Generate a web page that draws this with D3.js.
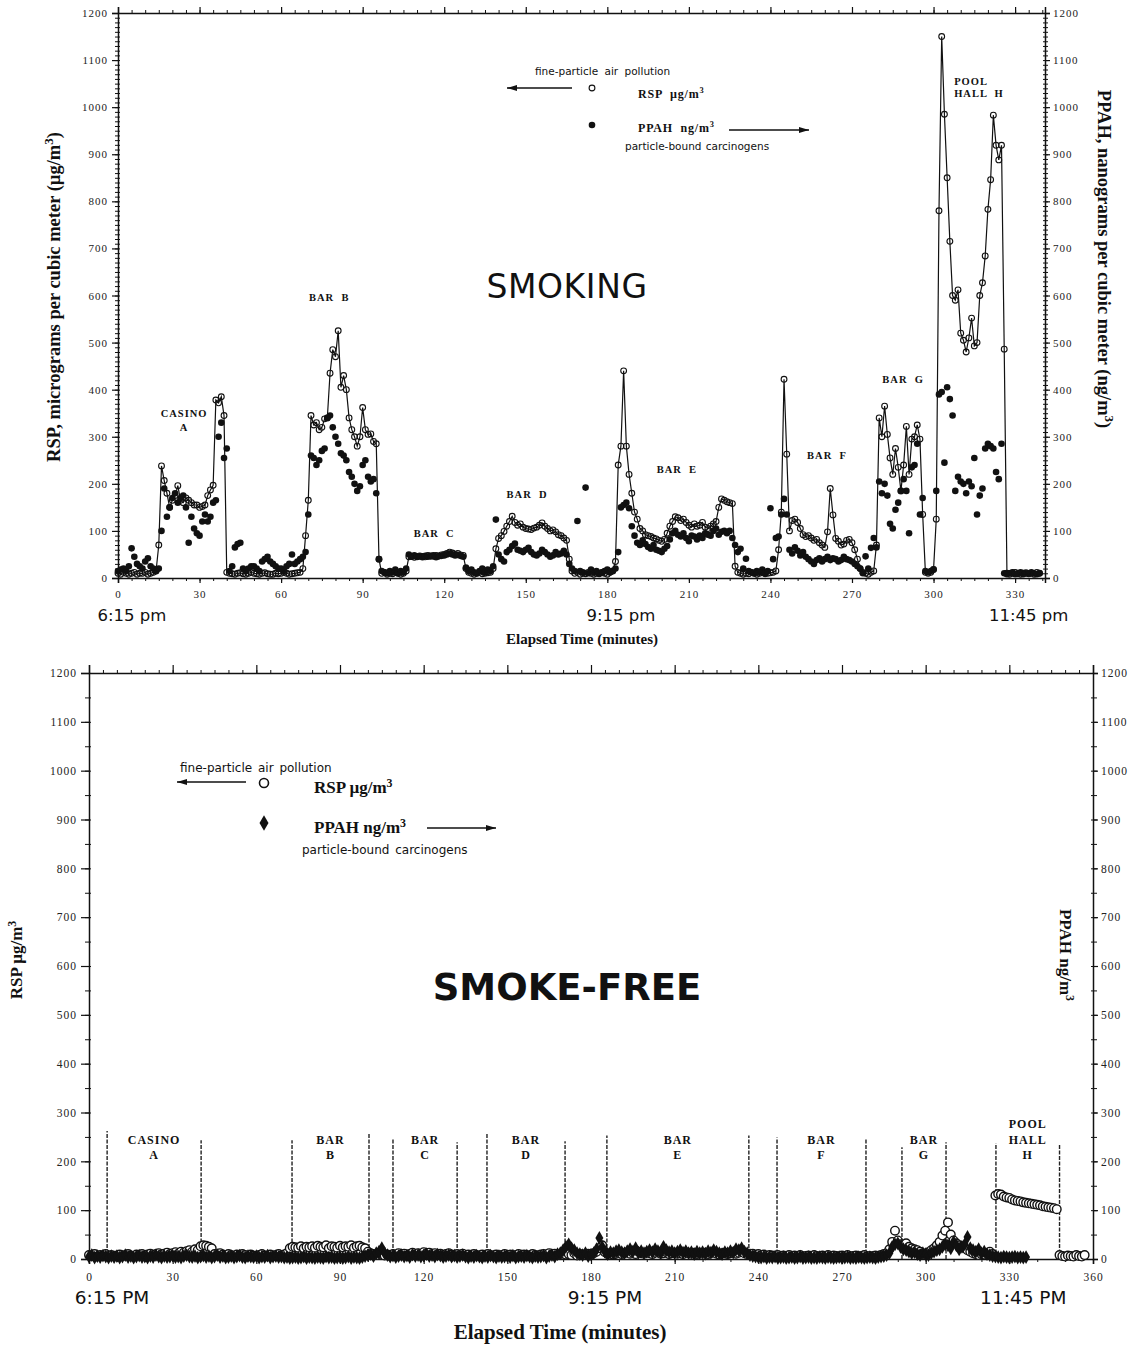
<!DOCTYPE html>
<html><head><meta charset="utf-8">
<script src="https://cdn.jsdelivr.net/npm/d3@7"></script>
<style>
body{margin:0;background:#fff}
svg{display:block}
.tick text{font-family:"Liberation Serif",serif}
</style>
</head><body>
<svg id="chart" width="1141" height="1347"></svg>
<script>
// ---------- Smoking: one reading per minute, minute 0..339 ----------
const smokingRsp = [
  10, 8, 12, 10, 8, 10, 12, 8, 10, 10,
  12, 8, 10, 12, 15, 70, 238, 207, 180, 150,
  165, 175, 196, 165, 160, 170, 165, 160, 155, 155,
  150, 152, 155, 175, 187, 197, 378, 372, 385, 345,
  12, 10, 9, 8, 10, 11, 9, 8, 10, 12,
  10, 9, 8, 10, 11, 9, 8, 8, 10, 9,
  10, 12, 10, 8, 9, 10, 11, 12, 20, 90,
  165, 345, 325, 330, 315, 320, 338, 340, 435, 485,
  470, 525, 405, 430, 400, 340, 315, 300, 280, 300,
  362, 315, 305, 306, 290, 285, 40, 10, 12, 8,
  10, 9, 12, 10, 8, 10, 15, 45, 46, 44,
  45, 47, 46, 45, 48, 47, 46, 48, 47, 49,
  50, 52, 55, 53, 50, 52, 49, 48, 20, 12,
  10, 8, 10, 12, 9, 10, 11, 12, 20, 62,
  84, 90, 99, 110, 120, 131, 118, 112, 115, 108,
  105, 104, 103, 106, 108, 112, 117, 110, 105, 100,
  102, 98, 92, 90, 85, 80, 40, 15, 10, 12,
  8, 10, 9, 12, 10, 8, 10, 9, 11, 10,
  8, 12, 15, 35, 240, 280, 440, 280, 220, 180,
  140, 125, 105, 100, 92, 90, 88, 85, 83, 80,
  78, 82, 95, 110, 120, 130, 128, 122, 125, 118,
  112, 108, 115, 110, 112, 118, 108, 105, 110, 115,
  120, 150, 168, 165, 162, 160, 158, 25, 12, 10,
  8, 10, 9, 12, 10, 8, 10, 12, 9, 10,
  11, 12, 15, 60, 140, 422, 263, 100, 122, 125,
  118, 105, 92, 88, 90, 85, 80, 82, 75, 70,
  65, 98, 190, 134, 84, 78, 70, 72, 80, 82,
  75, 60, 40, 20, 12, 10, 8, 12, 15, 70,
  340, 300, 365, 305, 255, 220, 275, 235, 185, 240,
  322, 220, 295, 300, 325, 295, 135, 12, 10, 12,
  18, 125, 780, 1150, 985, 850, 715, 600, 590, 612,
  520, 505, 480, 510, 552, 493, 500, 600, 627, 684,
  783, 846, 983, 919, 888, 919, 486, 10, 8, 10,
  12, 9, 8, 10, 11, 9, 10, 8, 12, 10
];
const smokingPpah = [
  15, 18, 20, 15, 25, 63, 45, 30, 25, 20,
  35, 42, 25, 20, 15, 20, 100, 190, 130, 150,
  170, 180, 160, 170, 175, 150, 75, 130, 105, 95,
  90, 120, 135, 120, 130, 160, 165, 300, 330, 255,
  275, 15, 25, 65, 72, 75, 20, 15, 20, 25,
  25, 20, 15, 35, 40, 45, 35, 30, 25, 20,
  20, 15, 25, 30, 50, 30, 35, 40, 45, 55,
  135, 260, 255, 240, 250, 270, 275, 340, 345, 320,
  300, 285, 265, 260, 250, 225, 215, 200, 185, 195,
  240, 250, 215, 205, 210, 180, 40, 15, 12, 10,
  15, 12, 18, 10, 15, 12, 20, 50, 45, 48,
  45, 46, 44, 47, 45, 46, 48, 44, 46, 47,
  48, 50, 52, 50, 48, 49, 47, 45, 22, 15,
  18, 12, 10, 15, 20, 12, 18, 15, 25, 124,
  50, 40, 35, 55, 60, 68, 73, 60, 58, 55,
  60, 64, 55, 50, 48, 52, 60, 55, 50, 45,
  48, 55, 50, 52, 58, 50, 30, 20, 15, 121,
  15, 12, 192, 10, 18, 12, 15, 10, 12, 15,
  18, 12, 15, 20, 55, 150, 155, 160, 148, 110,
  90, 75, 70, 80, 72, 66, 62, 70, 60, 58,
  55, 62, 68, 82, 95, 100, 92, 88, 95, 85,
  78, 90, 88, 82, 90, 85, 95, 92, 90, 100,
  105, 92, 98, 100, 95, 100, 85, 70, 55, 62,
  20, 41, 15, 12, 10, 15, 12, 18, 10, 15,
  148, 40, 85, 88, 135, 168, 135, 60, 52, 65,
  58, 48, 55, 45, 40, 35, 30, 38, 42, 35,
  40, 45, 38, 42, 40, 35, 38, 45, 40, 38,
  35, 30, 25, 20, 10, 46, 20, 64, 85, 65,
  205, 180, 200, 175, 115, 105, 145, 160, 185, 210,
  185, 95, 235, 240, 285, 135, 170, 15, 12, 15,
  18, 185, 390, 395, 245, 405, 380, 345, 185, 215,
  205, 200, 180, 205, 195, 255, 135, 175, 190, 275,
  285, 280, 275, 225, 210, 285, 10, 8, 10, 12,
  8, 10, 12, 8, 10, 9, 12, 10, 8, 10
];

// ---------- Smoke-free: one reading per minute, minute 0..357 ----------
const smokeFreeRsp = [
  8, 6, 10, 5, 8, 7, 10, 6, 8, 5,
  7, 9, 6, 8, 10, 7, 6, 9, 8, 10,
  7, 9, 11, 8, 10, 12, 9, 11, 13, 10,
  12, 14, 11, 15, 13, 16, 18, 15, 20, 18,
  26, 28, 27, 25, 22, 10, 8, 12, 9, 7,
  10, 8, 6, 9, 7, 10, 8, 5, 9, 7,
  6, 8, 10, 7, 5, 9, 6, 8, 10, 7,
  9, 12, 22, 25, 24, 23, 26, 22, 25, 24,
  26, 23, 27, 25, 24, 28, 22, 26, 25, 23,
  27, 24, 26, 25, 28, 23, 26, 27, 24, 22,
  15, 12, 10, 8, 12, 10, 7, 9, 6, 10,
  8, 12, 9, 11, 7, 10, 13, 9, 12, 10,
  14, 11, 13, 10, 12, 9, 11, 8, 10, 12,
  9, 7, 10, 8, 11, 6, 9, 7, 10, 8,
  6, 9, 7, 10, 8, 6, 9, 7, 8, 10,
  7, 9, 6, 8, 10, 7, 9, 8, 6, 10,
  8, 7, 9, 10, 6, 12, 9, 11, 8, 10,
  12, 9, 10, 8, 12, 7, 10, 9, 8, 11,
  10, 12, 15, 22, 28, 14, 10, 12, 9, 11,
  13, 10, 12, 14, 11, 13, 10, 15, 12, 11,
  14, 12, 10, 13, 15, 11, 12, 14, 10, 12,
  13, 11, 12, 10, 14, 12, 11, 13, 10, 12,
  11, 13, 10, 12, 14, 11, 9, 12, 13, 10,
  12, 14, 11, 13, 15, 12, 10, 9, 11, 8,
  10, 7, 9, 6, 8, 7, 6, 8, 5, 7,
  6, 8, 5, 7, 6, 8, 5, 6, 7, 5,
  8, 6, 5, 7, 6, 8, 5, 7, 6, 5,
  7, 6, 8, 5, 6, 7, 5, 6, 8, 5,
  6, 5, 7, 6, 8, 10, 12, 20, 35, 58,
  38, 30, 28, 32, 25, 22, 20, 18, 15, 12,
  10, 14, 18, 22, 28, 35, 48, 58, 75, 50,
  38, 32, 28, 25, 22, 18, 15, 12, 10, 8,
  10, 9, 12, 15, 10, 130, 133, 132, 128, 126,
  125, 122, 120, 119, 118, 116, 115, 114, 113, 112,
  111, 110, 108, 107, 106, 105, 104, 102, 8, 6,
  5, 7, 6, 5, 8, 6, 5, 8
];
const smokeFreePpah = [
  5, 8, 3, 6, 4, 7, 5, 3, 6, 4,
  6, 3, 5, 8, 4, 6, 3, 5, 7, 4,
  5, 3, 6, 4, 8, 5, 3, 6, 4, 5,
  7, 4, 5, 3, 6, 8, 5, 4, 6, 3,
  5, 7, 4, 6, 3, 5, 8, 4, 6, 3,
  4, 6, 3, 5, 7, 4, 3, 6, 5, 4,
  6, 3, 5, 4, 7, 3, 5, 6, 4, 5,
  3, 4, 2, 3, 4, 2, 3, 5, 2, 4,
  3, 2, 4, 3, 2, 5, 3, 4, 2, 3,
  4, 2, 3, 5, 2, 4, 3, 2, 4, 6,
  8, 10, 6, 12, 15, 22, 12, 8, 5, 7,
  4, 6, 8, 5, 7, 4, 9, 6, 8, 5,
  7, 10, 6, 8, 5, 9, 7, 4, 6, 8,
  5, 7, 4, 6, 8, 5, 3, 6, 4, 7,
  5, 3, 6, 4, 7, 5, 3, 6, 4, 5,
  6, 4, 7, 3, 5, 6, 4, 7, 5, 3,
  6, 4, 5, 7, 3, 6, 8, 5, 10, 12,
  18, 25, 30, 22, 18, 12, 10, 8, 12, 6,
  9, 12, 20, 43, 25, 15, 10, 14, 12, 16,
  18, 14, 12, 16, 20, 15, 22, 13, 16, 12,
  15, 18, 14, 20, 16, 12, 25, 18, 14, 16,
  12, 15, 18, 13, 16, 12, 14, 10, 15, 12,
  14, 11, 16, 13, 18, 15, 12, 10, 14, 12,
  16, 13, 20, 18, 22, 15, 12, 8, 6, 5,
  4, 3, 5, 2, 4, 3, 5, 2, 3, 4,
  2, 3, 4, 2, 3, 5, 2, 3, 4, 2,
  3, 2, 4, 3, 2, 4, 3, 2, 3, 4,
  2, 3, 4, 2, 3, 2, 4, 3, 2, 3,
  4, 3, 2, 4, 5, 6, 8, 12, 25, 30,
  32, 25, 20, 18, 15, 12, 14, 10, 8, 12,
  10, 8, 12, 15, 18, 20, 25, 30, 28, 22,
  35, 28, 20, 25, 30, 45, 22, 18, 15, 20,
  12, 15, 10, 8, 6, 5, 4, 3, 5, 4,
  3, 4, 5, 3, 4, 3, 4, null, null, null,
  null, null, null, null, null, null, null, null, null, null,
  null, null, null, null, null, null, null, null
];

// Venue visits in the smoke-free survey: start/end minute and label lines
const venueNames = [["CASINO","A"],["BAR","B"],["BAR","C"],["BAR","D"],["BAR","E"],["BAR","F"],["BAR","G"],["POOL","HALL","H"]];
const venueStart = [6.5, 72.8, 109, 142.7, 185.7, 246.7, 291.5, 325.2];
const venueEnd   = [40.2, 100.4, 132, 170.7, 236.6, 278.6, 307.3, 348];
const venueStartTop = [262, 243, 247, 256, 253, 249, 229, 237];
const venueEndTop   = [243, 256, 239, 241, 253, 245, 239, 235];

// Axis ticks
const yTicks = d3.range(0, 1201, 100);
const smokingMinuteTicks = d3.range(0, 331, 30);
const smokeFreeMinuteTicks = d3.range(0, 361, 30);

const svg = d3.select("#chart");
const serif = '"Liberation Serif", "Times New Roman", serif';
const sans = '"DejaVu Sans", Verdana, sans-serif';

// arrowhead marker
svg.append("defs").append("marker")
  .attr("id", "arrow").attr("viewBox", "0 0 10 6")
  .attr("refX", 10).attr("refY", 3)
  .attr("markerWidth", 10).attr("markerHeight", 6)
  .attr("markerUnits", "userSpaceOnUse").attr("orient", "auto")
  .append("path").attr("d", "M0,0L10,3L0,6Z").attr("fill", "#111");

function styleAxis(g, fontSize, spacing) {
  g.select(".domain").attr("stroke", "#111").attr("stroke-width", 1.5);
  g.selectAll(".tick line").attr("stroke", "#111").attr("stroke-width", 1.2);
  g.selectAll(".tick text").attr("font-family", serif).attr("font-size", fontSize)
    .attr("letter-spacing", spacing).attr("fill", "#222");
}

function frame(x, y, opt) {
  const [x0, x1] = x.range();
  const [yb, yt] = y.range();
  const g = svg.append("g");
  // minor ticks
  const minor = (axis, tr) => g.append("g").attr("transform", tr).call(axis).call(a => {
    a.select(".domain").remove();
    a.selectAll(".tick line").attr("stroke", "#111").attr("stroke-width", 1);
  });
  minor(d3.axisBottom(x).tickValues(opt.xMinorBottom).tickSize(3).tickFormat(""), `translate(0,${yb})`);
  minor(d3.axisTop(x).tickValues(opt.xMinorTop).tickSize(3).tickFormat(""), `translate(0,${yt})`);
  minor(d3.axisLeft(y).tickValues(opt.yMinor).tickSize(opt.yMinorSize).tickFormat(""), `translate(${x0},0)`);
  minor(d3.axisLeft(y).tickValues(opt.yMinor).tickSize(-2).tickFormat(""), `translate(${x0},0)`);
  minor(d3.axisRight(y).tickValues(opt.yMinor).tickSize(opt.yMinorSize).tickFormat(""), `translate(${x1},0)`);
  minor(d3.axisRight(y).tickValues(opt.yMinor).tickSize(-2).tickFormat(""), `translate(${x1},0)`);
  // major ticks + labels
  g.append("g").attr("transform", `translate(0,${yb})`)
    .call(d3.axisBottom(x).tickValues(opt.xTicks).tickSize(opt.xTickSize).tickPadding(opt.xPad).tickFormat(d3.format("d")))
    .call(a => styleAxis(a, opt.font, opt.spacing));
  g.append("g").attr("transform", `translate(0,${yt})`)
    .call(d3.axisTop(x).tickValues(opt.xTicks).tickSize(opt.xTopTickSize).tickFormat(""))
    .call(a => styleAxis(a, opt.font, opt.spacing));
  g.append("g").attr("transform", `translate(${x0},0)`)
    .call(d3.axisLeft(y).tickValues(yTicks).tickSize(opt.yTickSize).tickPadding(opt.yPadL).tickFormat(d3.format("d")))
    .call(a => styleAxis(a, opt.font, opt.spacing));
  g.append("g").attr("transform", `translate(${x1},0)`)
    .call(d3.axisRight(y).tickValues(yTicks).tickSize(opt.yTickSizeR).tickPadding(opt.yPadR).tickFormat(d3.format("d")))
    .call(a => styleAxis(a, opt.font, opt.spacing));
}

function supText(sel, x, y, pre, font, size, weight, anchor, rotate) {
  const t = svg.append("text").attr("font-family", font).attr("font-size", size)
    .attr("font-weight", weight).attr("fill", "#111").attr("text-anchor", anchor || "start");
  if (rotate) t.attr("transform", `translate(${x},${y}) rotate(${rotate})`);
  else t.attr("x", x).attr("y", y);
  pre.forEach(p => {
    if (p.sup) t.append("tspan").attr("font-size", size * 0.7).attr("dy", -size * 0.38).text(p.sup);
    else t.append("tspan").attr("dy", p.reset ? size * 0.38 : 0).text(p.t);
  });
  return t;
}

// ================= SMOKING =================
const xS = d3.scaleLinear().domain([0, 341]).range([118, 1045]);
const yS = d3.scaleLinear().domain([0, 1200]).range([578, 13]);

frame(xS, yS, {
  xTicks: smokingMinuteTicks, xMinorBottom: d3.range(0, 341, 5), xMinorTop: d3.range(0, 341, 5),
  yMinor: d3.range(0, 1201, 10), yMinorSize: 3,
  xTickSize: 5, xPad: 7, xTopTickSize: 6,
  yTickSize: 6, yPadL: 4, yTickSizeR: 5, yPadR: 3,
  font: 11, spacing: 1
});

const smokingIdx = d3.range(smokingRsp.length);
svg.append("path").datum(smokingIdx)
  .attr("fill", "none").attr("stroke", "#111").attr("stroke-width", 1.2)
  .attr("d", d3.line().x(i => xS(i)).y(i => yS(smokingRsp[i])));
svg.append("g").selectAll("circle").data(smokingIdx.filter(i => smokingPpah[i] != null)).join("circle")
  .attr("cx", i => xS(i)).attr("cy", i => yS(smokingPpah[i])).attr("r", 3.3).attr("fill", "#111");
svg.append("g").selectAll("circle").data(smokingIdx).join("circle")
  .attr("cx", i => xS(i)).attr("cy", i => yS(smokingRsp[i])).attr("r", 2.9)
  .attr("fill", "none").attr("stroke", "#111").attr("stroke-width", 1.1);

// venue labels (minute, level)
const smokingVenueLabels = [
  {lines: ["CASINO", "A"], t: 24.3, v: 342},
  {lines: ["BAR  B"], t: 77.7, v: 588},
  {lines: ["BAR  C"], t: 116.3, v: 87},
  {lines: ["BAR  D"], t: 150.5, v: 170},
  {lines: ["BAR  E"], t: 205.6, v: 223},
  {lines: ["BAR  F"], t: 260.8, v: 252},
  {lines: ["BAR  G"], t: 288.8, v: 415}
];
smokingVenueLabels.forEach(d => {
  d.lines.forEach((l, k) => svg.append("text").attr("x", xS(d.t)).attr("y", yS(d.v) + k * 14)
    .attr("text-anchor", "middle").attr("font-family", serif).attr("font-weight", "bold")
    .attr("font-size", 10.5).attr("letter-spacing", 1).attr("fill", "#111").style("white-space", "pre").text(l));
});
["POOL", "HALL  H"].forEach((l, k) => svg.append("text").attr("x", xS(307.6)).attr("y", yS(1048) + k * 12)
  .attr("font-family", serif).attr("font-weight", "bold").attr("font-size", 10.5)
  .attr("letter-spacing", 1).attr("fill", "#111").style("white-space", "pre").text(l));

svg.append("text").attr("x", 567).attr("y", 298).attr("text-anchor", "middle")
  .attr("font-family", sans).attr("font-size", 33).attr("letter-spacing", 0.6).attr("fill", "#111").text("SMOKING");

// legend
svg.append("text").attr("x", 535).attr("y", 75).attr("font-family", sans).attr("font-size", 10.5)
  .attr("word-spacing", 3).attr("fill", "#111").text("fine-particle air pollution");
svg.append("line").attr("x1", 572).attr("y1", 88).attr("x2", 507).attr("y2", 88)
  .attr("stroke", "#111").attr("stroke-width", 1.3).attr("marker-end", "url(#arrow)");
svg.append("circle").attr("cx", 592).attr("cy", 88).attr("r", 2.9).attr("fill", "none").attr("stroke", "#111").attr("stroke-width", 1.1);
svg.append("circle").attr("cx", 592).attr("cy", 125).attr("r", 3.3).attr("fill", "#111");
supText(null, 638, 98, [{t: "RSP  µg/m"}, {sup: "3"}], serif, 12, "bold").style("white-space", "pre").attr("letter-spacing", 0.8);
supText(null, 638, 132, [{t: "PPAH  ng/m"}, {sup: "3"}], serif, 12, "bold").style("white-space", "pre").attr("letter-spacing", 0.8);
svg.append("line").attr("x1", 729).attr("y1", 130).attr("x2", 809).attr("y2", 130)
  .attr("stroke", "#111").attr("stroke-width", 1.3).attr("marker-end", "url(#arrow)");
svg.append("text").attr("x", 625).attr("y", 150).attr("font-family", sans).attr("font-size", 10.5)
  .attr("word-spacing", 1).attr("fill", "#111").text("particle-bound carcinogens");

// axis titles
supText(null, 60, 297, [{t: "RSP, micrograms per cubic meter (µg/m"}, {sup: "3"}, {t: ")", reset: true}], serif, 18.5, "bold", "middle", -90);
supText(null, 1098, 259, [{t: "PPAH, nanograms per cubic meter (ng/m"}, {sup: "3"}, {t: ")", reset: true}], serif, 18.5, "bold", "middle", 90);
svg.append("text").attr("x", 582).attr("y", 644).attr("text-anchor", "middle").attr("font-family", serif)
  .attr("font-weight", "bold").attr("font-size", 15).attr("fill", "#111").text("Elapsed Time (minutes)");
[["6:15 pm", 0], ["9:15 pm", 185], ["11:45 pm", 335]].forEach(([s, t]) =>
  svg.append("text").attr("x", xS(t) + (t === 0 ? 14 : 0)).attr("y", 621).attr("text-anchor", "middle")
    .attr("font-family", sans).attr("font-size", 16.5).attr("fill", "#111").text(s));

// ================= SMOKE-FREE =================
const xF = d3.scaleLinear().domain([0, 360]).range([89, 1093]);
const yF = d3.scaleLinear().domain([0, 1200]).range([1259, 673]);

frame(xF, yF, {
  xTicks: smokeFreeMinuteTicks, xMinorBottom: d3.range(0, 361, 10), xMinorTop: d3.range(0, 361, 5),
  yMinor: d3.range(0, 1201, 50), yMinorSize: 4,
  xTickSize: 5, xPad: 9, xTopTickSize: 8,
  yTickSize: 8, yPadL: 4, yTickSizeR: 5, yPadR: 3,
  font: 11.5, spacing: 1
});

// venue boundaries
const vb = svg.append("g");
venueStart.forEach((s, k) => {
  [[s, venueStartTop[k]], [venueEnd[k], venueEndTop[k]]].forEach(([t, top]) =>
    vb.append("line").attr("x1", xF(t)).attr("x2", xF(t)).attr("y1", yF(0)).attr("y2", yF(top))
      .attr("stroke", "#222").attr("stroke-width", 1.4).attr("stroke-dasharray", "4,1.5"));
  const names = venueNames[k];
  const y0 = names.length === 3 ? yF(268) : yF(236);
  names.forEach((n, j) => vb.append("text").attr("x", xF((s + venueEnd[k]) / 2)).attr("y", y0 + j * 15.5)
    .attr("text-anchor", "middle").attr("font-family", serif).attr("font-weight", "bold")
    .attr("font-size", 12).attr("letter-spacing", 1).attr("fill", "#111").text(n));
});

const freeIdx = d3.range(smokeFreeRsp.length);
svg.append("g").selectAll("circle").data(freeIdx).join("circle")
  .attr("cx", i => xF(i)).attr("cy", i => yF(smokeFreeRsp[i])).attr("r", 4.3)
  .attr("fill", "#fff").attr("stroke", "#111").attr("stroke-width", 1.4);
const diamond = d3.symbol().type(d3.symbolDiamond).size(55);
svg.append("g").selectAll("path").data(freeIdx.filter(i => smokeFreePpah[i] != null)).join("path")
  .attr("transform", i => `translate(${xF(i)},${yF(smokeFreePpah[i])})`)
  .attr("d", diamond).attr("fill", "#111");

svg.append("text").attr("x", 567).attr("y", 1000).attr("text-anchor", "middle")
  .attr("font-family", sans).attr("font-weight", "bold")
  .attr("font-size", 37).attr("fill", "#111").text("SMOKE-FREE");

// legend
svg.append("text").attr("x", 180).attr("y", 772).attr("font-family", sans).attr("font-size", 12)
  .attr("word-spacing", 2).attr("fill", "#111").text("fine-particle air pollution");
svg.append("line").attr("x1", 246).attr("y1", 782).attr("x2", 177).attr("y2", 782)
  .attr("stroke", "#111").attr("stroke-width", 1.4).attr("marker-end", "url(#arrow)");
svg.append("circle").attr("cx", 264).attr("cy", 783).attr("r", 4.5).attr("fill", "#fff").attr("stroke", "#111").attr("stroke-width", 1.6);
svg.append("path").attr("transform", "translate(264,823)").attr("d", d3.symbol().type(d3.symbolDiamond).size(70)).attr("fill", "#111");
supText(null, 314, 793, [{t: "RSP µg/m"}, {sup: "3"}], serif, 17, "bold");
supText(null, 314, 833, [{t: "PPAH ng/m"}, {sup: "3"}], serif, 17, "bold");
svg.append("line").attr("x1", 427).attr("y1", 828).attr("x2", 496).attr("y2", 828)
  .attr("stroke", "#111").attr("stroke-width", 1.4).attr("marker-end", "url(#arrow)");
svg.append("text").attr("x", 302).attr("y", 854).attr("font-family", sans).attr("font-size", 12)
  .attr("word-spacing", 2).attr("fill", "#111").text("particle-bound carcinogens");

supText(null, 22, 960, [{t: "RSP µg/m"}, {sup: "3"}], serif, 17, "bold", "middle", -90);
supText(null, 1060, 955, [{t: "PPAH ng/m"}, {sup: "3"}], serif, 17, "bold", "middle", 90);

[["6:15 PM", 0], ["9:15 PM", 185], ["11:45 PM", 335]].forEach(([s, t]) =>
  svg.append("text").attr("x", xF(t) + (t === 0 ? 23 : 0)).attr("y", 1304).attr("text-anchor", "middle")
    .attr("font-family", sans).attr("font-size", 18.5).attr("fill", "#111").text(s));
svg.append("text").attr("x", 560).attr("y", 1339).attr("text-anchor", "middle").attr("font-family", serif)
  .attr("font-weight", "bold").attr("font-size", 21).attr("fill", "#111").text("Elapsed Time (minutes)");
</script>
</body></html>
